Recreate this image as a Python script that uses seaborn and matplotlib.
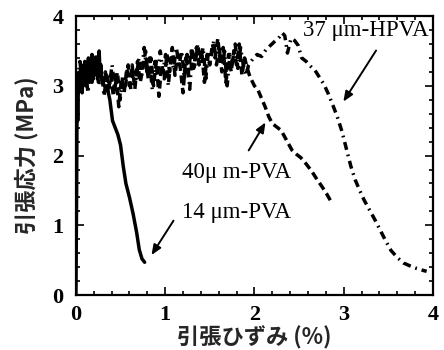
import matplotlib
matplotlib.use("Agg")
import matplotlib.pyplot as plt
import seaborn as sns
from matplotlib.ticker import MultipleLocator

# ---- data ----
x14 = [0.00, 0.008, 0.012, 0.016, 0.02, 0.025, 0.03, 0.04, 0.05, 0.06, 0.07, 0.08, 0.09,
       0.10, 0.11, 0.12, 0.13, 0.14, 0.15, 0.16, 0.17, 0.18, 0.19, 0.20, 0.21, 0.22,
       0.23, 0.24, 0.25, 0.26, 0.27, 0.28, 0.29, 0.30, 0.32, 0.35, 0.38, 0.41, 0.44,
       0.47, 0.50, 0.53, 0.56, 0.60, 0.64, 0.68, 0.71, 0.74, 0.77]
y14 = [0.00, 1.50, 2.60, 3.00, 2.50, 3.10, 2.90, 3.20, 3.00, 3.30, 2.90, 3.25, 3.10,
       3.35, 3.00, 3.30, 3.10, 3.40, 3.05, 3.30, 3.15, 3.45, 3.10, 3.35, 3.20, 3.40,
       3.15, 3.30, 3.20, 3.50, 3.20, 3.30, 3.10, 3.05, 3.00, 2.98, 2.80, 2.50, 2.40,
       2.30, 2.15, 1.85, 1.60, 1.40, 1.17, 0.90, 0.65, 0.52, 0.47]

x40 = [0.00, 0.03, 0.06, 0.09, 0.12, 0.15, 0.18, 0.21, 0.24, 0.27,
       0.30, 0.33, 0.36, 0.39, 0.42, 0.45, 0.48, 0.51, 0.54, 0.57,
       0.60, 0.63, 0.66, 0.69, 0.72, 0.75, 0.78, 0.81, 0.84, 0.87,
       0.90, 0.93, 0.96, 0.99, 1.02, 1.05, 1.08, 1.11, 1.14, 1.17,
       1.20, 1.23, 1.26, 1.29, 1.32, 1.35, 1.38, 1.41, 1.44, 1.47,
       1.50, 1.53, 1.56, 1.59, 1.62, 1.65, 1.68, 1.71, 1.74, 1.77,
       1.80, 1.83, 1.86, 1.89, 1.92,
       1.95, 2.00, 2.04, 2.08, 2.12, 2.16, 2.20, 2.25, 2.30, 2.36,
       2.42, 2.47, 2.52, 2.58, 2.64, 2.70, 2.76, 2.81, 2.85]
y40 = [2.90, 3.20, 2.95, 3.30, 3.00, 3.35, 3.05, 3.40, 3.10, 3.30,
       3.00, 3.20, 2.90, 3.15, 2.85, 3.20, 2.70, 3.10, 2.90, 3.25,
       3.00, 3.30, 2.95, 3.35, 3.05, 3.25, 3.50, 3.10, 3.40, 3.00,
       3.35, 2.85, 3.30, 3.10, 3.45, 3.20, 3.55, 3.15, 3.45, 3.25,
       2.90, 3.40, 3.20, 3.50, 3.25, 3.55, 3.30, 3.50, 3.05, 3.45,
       3.30, 3.60, 3.40, 3.68, 3.30, 3.55, 3.05, 3.45, 3.20, 3.50,
       3.30, 3.60, 3.15, 3.40, 3.25,
       3.13, 3.00, 2.94, 2.82, 2.70, 2.56, 2.46, 2.41, 2.36, 2.22,
       2.08, 2.02, 1.97, 1.88, 1.78, 1.66, 1.55, 1.45, 1.36]

x37 = [0.015, 0.045, 0.075, 0.105, 0.135, 0.165, 0.195, 0.225, 0.255, 0.285,
       0.315, 0.345, 0.375, 0.405, 0.435, 0.465, 0.495, 0.525, 0.555, 0.585,
       0.615, 0.645, 0.675, 0.705, 0.735, 0.765, 0.795, 0.825, 0.855, 0.885,
       0.915, 0.945, 0.975, 1.005, 1.035, 1.065, 1.095, 1.125, 1.155, 1.185,
       1.215, 1.245, 1.275, 1.305, 1.335, 1.365, 1.395, 1.425, 1.455, 1.485,
       1.515, 1.545, 1.575, 1.605, 1.635, 1.665, 1.695, 1.725, 1.755, 1.785,
       1.815, 1.845, 1.875, 1.905, 1.935,
       1.98, 2.03, 2.08, 2.13, 2.18, 2.23, 2.28, 2.31, 2.34, 2.37,
       2.41, 2.45, 2.49, 2.53, 2.58, 2.63, 2.68, 2.73, 2.78, 2.83,
       2.88, 2.93, 2.98, 3.03, 3.08, 3.13, 3.18, 3.23, 3.29, 3.35,
       3.41, 3.47, 3.53, 3.60, 3.67, 3.74, 3.82, 3.90, 3.93]
y37 = [3.05, 3.35, 3.00, 3.25, 2.90, 3.30, 3.10, 3.45, 3.00, 3.25,
       2.85, 3.15, 3.00, 3.30, 2.95, 3.20, 2.80, 3.15, 3.00, 3.30,
       2.95, 3.20, 3.10, 3.40, 3.15, 3.55, 3.20, 3.40, 2.95, 3.35,
       3.15, 3.50, 3.20, 3.45, 3.00, 3.40, 3.25, 3.55, 3.30, 3.50,
       3.10, 3.45, 2.95, 3.50, 3.30, 3.60, 3.35, 3.55, 3.10, 3.50,
       3.40, 3.65, 3.30, 3.55, 3.20, 3.50, 3.00, 3.45, 3.35, 3.60,
       3.25, 3.55, 3.30, 3.15, 3.30,
       3.38, 3.45, 3.42, 3.52, 3.58, 3.64, 3.70, 3.76, 3.72, 3.47,
       3.68, 3.65, 3.58, 3.40, 3.35, 3.28, 3.22, 3.12, 3.02, 2.88,
       2.72, 2.55, 2.35, 2.10, 1.85, 1.65, 1.50, 1.36, 1.22, 1.08,
       0.93, 0.78, 0.64, 0.54, 0.46, 0.42, 0.38, 0.35, 0.34]

labels = ["37 \u03bcm-HPVA", "40\u03bc m-PVA", "14 \u03bcm-PVA"]
xticks = [0, 1, 2, 3, 4]
yticks = [0, 1, 2, 3, 4]
xlabel = "引張ひずみ (%)"
ylabel = "引張応力 (MPa)"

assert len(x14) == len(y14) and len(x40) == len(y40) and len(x37) == len(y37)

# ---- plot ----
sns.set_style("ticks")
plt.rcParams["font.family"] = ["Liberation Serif", "DejaVu Serif"]

fig = plt.figure(figsize=(4.44, 3.5), dpi=100)
ax = fig.add_axes([0.171, 0.157, 0.804, 0.797])

lw = 2.5
sns.lineplot(x=x14, y=y14, ax=ax, sort=False, estimator=None, color="black",
             lw=lw, linestyle="-")
sns.lineplot(x=x40, y=y40, ax=ax, sort=False, estimator=None, color="black",
             lw=lw, linestyle=(0, (2.3, 1.3)))
sns.lineplot(x=x37, y=y37, ax=ax, sort=False, estimator=None, color="black",
             lw=lw, linestyle=(0, (2.3, 1.4, 0.5, 1.4)))

ax.set_xlim(0, 4)
ax.set_ylim(0, 4)
ax.set_xticks(xticks)
ax.set_yticks(yticks)
ax.xaxis.set_minor_locator(MultipleLocator(0.2))
ax.yaxis.set_minor_locator(MultipleLocator(0.2))
ax.tick_params(which="both", direction="in", top=True, right=True, width=1.2,
               colors="black")
ax.tick_params(which="major", length=6, labelsize=16)
ax.tick_params(axis="x", which="major", pad=7)
ax.tick_params(axis="y", which="major", pad=9)
ax.tick_params(which="minor", length=3)
for t in ax.get_xticklabels() + ax.get_yticklabels():
    t.set_fontweight("bold")
for s in ax.spines.values():
    s.set_linewidth(1.6)
    s.set_color("black")

ax.set_xlabel(xlabel, fontsize=16, fontweight="bold",
              family=["Noto Sans CJK JP", "DejaVu Sans"], labelpad=1)
ax.set_ylabel(ylabel, fontsize=16, fontweight="bold",
              family=["Noto Sans CJK JP", "DejaVu Sans"], labelpad=10)

tkw = dict(fontsize=16.5, color="black", va="center", ha="left",
           family=["Liberation Serif", "DejaVu Serif"])
akw = dict(arrowstyle="-|>,head_length=0.6,head_width=0.25", lw=1.4, color="black")
ax.text(2.54, 3.80, labels[0], **tkw)
ax.annotate("", xy=(2.98, 2.74), xytext=(3.38, 3.54), arrowprops=akw)
ax.text(1.19, 1.76, labels[1], **tkw)
ax.annotate("", xy=(2.14, 2.51), xytext=(1.92, 2.04), arrowprops=akw)
ax.text(1.19, 1.19, labels[2], **tkw)
ax.annotate("", xy=(0.83, 0.54), xytext=(1.11, 1.10), arrowprops=akw)

fig.savefig("out.png", dpi=100)
